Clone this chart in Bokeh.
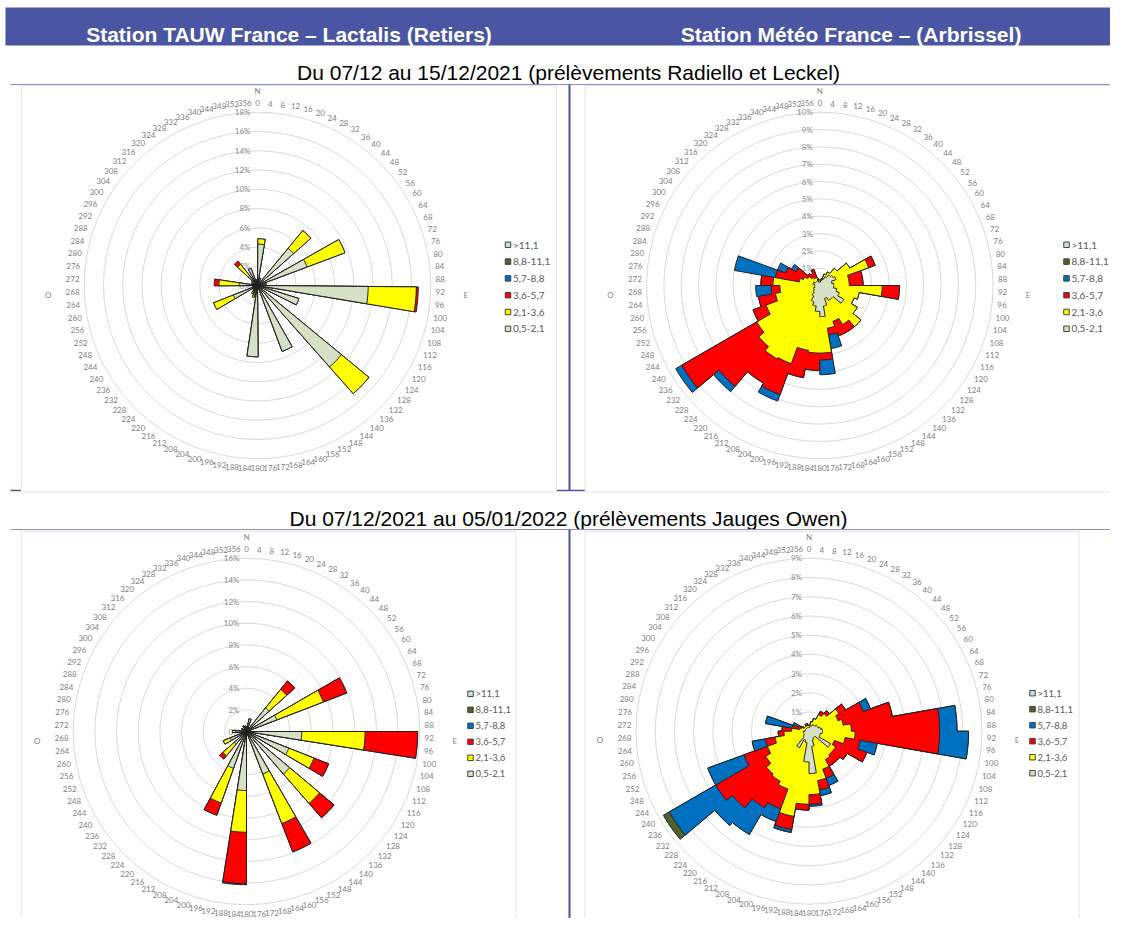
import numpy as np
from bokeh.plotting import figure
from bokeh.models import Range1d
from bokeh.embed import file_html
from bokeh.resources import INLINE
from bokeh.core.properties import value

# ---------------- texts ----------------
header_left = "Station TAUW France – Lactalis (Retiers)"
header_right = "Station Météo France – (Arbrissel)"
period_1 = "Du 07/12 au 15/12/2021 (prélèvements Radiello et Leckel)"
period_2 = "Du 07/12/2021 au 05/01/2022 (prélèvements Jauges Owen)"

# speed classes, from inner (first) to outer (last)
speed_classes = ["0,5-2,1", "2,1-3,6", "3,6-5,7", "5,7-8,8", "8,8-11,1", ">11,1"]
class_colors = ["#d6e0c4", "#ffff00", "#ff0000", "#0070c0", "#4f6228", "#c2e1e9"]

direction_labels = [str(d) for d in range(0, 360, 4)]

# ---------------- chart 1 : TAUW, 07/12 - 15/12/2021 (bars, % of time) -------------
c1_dir = [5, 20, 44, 65, 80, 95, 112, 134, 155, 184, 200, 215, 230, 244, 258, 274, 290, 305, 317, 335, 350]
c1_g   = [4.3, 0.8, 5.0, 5.5, 0.9, 11.5, 4.5, 11.3, 7.3, 7.4, 1.0, 0.8, 0.6, 2.7, 0.5, 1.9, 0.6, 0.7, 1.3, 1.9, 0.6]
c1_y   = [0.55, 0, 2.4, 4.2, 0, 5.0, 0, 3.7, 0, 0, 0.3, 0.2, 0, 2.2, 0, 2.1, 0, 0, 1.5, 0, 0]
c1_r   = [0, 0, 0, 0, 0, 0.2, 0, 0, 0, 0, 0, 0, 0, 0, 0, 0.5, 0, 0, 0.45, 0, 0]
c1_ticks = [0, 2, 4, 6, 8, 10, 12, 14, 16, 18]

# ---------------- chart 2 : Météo France, 07/12 - 15/12/2021 (10° sectors) ----------
c2_dir = [5, 15, 25, 35, 45, 55, 65, 75, 85, 95, 105, 115, 125, 135, 145, 155, 165, 175,
          185, 195, 205, 215, 225, 235, 245, 255, 265, 275, 285, 295, 305, 315, 325, 335, 345, 355]
c2_g = [0.2, 0.3, 0.4, 0.6, 0.8, 0.9, 1.0, 0.7, 0.8, 0.8, 1.0, 1.2, 1.6, 1.0, 1.0, 0.8, 1.2, 1.8,
        1.5, 1.2, 1.0, 0.7, 0.5, 0.4, 0.4, 0.3, 0.3, 0.3, 0.4, 0.4, 0.3, 0.3, 0.3, 0.3, 0.2, 0.2]
c2_y = [0.1, 0.1, 0.3, 0.3, 0.5, 1.1, 2.0, 1.0, 0.9, 2.8, 1.3, 0.9, 0.9, 2.1, 1.6, 1.4, 1.3, 2.1,
        2.4, 2.6, 3.8, 4.2, 4.1, 3.8, 2.9, 2.3, 2.0, 2.4, 0.8, 0.6, 0.5, 0.3, 0.2, 0.2, 0.1, 0.1]
c2_r = [0, 0, 0, 0, 0, 0, 0.4, 0.8, 0.8, 1.0, 0, 0, 0, 0, 0.5, 0.9, 0.4, 0.4,
        1.0, 1.6, 1.9, 1.6, 3.0, 5.0, 0.8, 1.0, 0.5, 0.7, 1.4, 1.1, 0.8, 0.3, 0.3, 0.5, 0.1, 0]
c2_b = [0, 0, 0, 0, 0, 0, 0, 0, 0, 0, 0, 0, 0, 0, 0, 0, 0.8, 0.85,
        0, 0, 0.4, 0, 0.4, 0.4, 0, 0, 0.9, 0, 2.4, 0.5, 0.3, 0, 0, 0, 0, 0]
c2_ticks = [0, 1, 2, 3, 4, 5, 6, 7, 8, 9, 10]

# ---------------- chart 3 : TAUW, 07/12/2021 - 05/01/2022 (bars) -------------------
c3_dir = [16, 43.5, 64.5, 94.5, 116, 134.5, 154.5, 184.5, 204, 224, 244, 270, 300, 330, 350]
c3_g   = [1.2, 2.8, 3.0, 5.1, 4.2, 5.2, 4.2, 5.45, 3.6, 1.5, 1.6, 1.0, 0.5, 0.6, 0.5]
c3_y   = [0, 2.2, 4.6, 5.85, 2.5, 3.6, 4.9, 3.85, 3.4, 1.4, 0.7, 0.3, 0, 0, 0]
c3_r   = [0, 1.0, 2.3, 4.85, 1.45, 1.75, 2.8, 4.75, 1.2, 0.4, 0, 0, 0, 0, 0]
c3_b   = [0, 0, 0, 0, 0, 0, 0, 0.1, 0, 0, 0, 0, 0, 0, 0]
c3_ticks = [0, 2, 4, 6, 8, 10, 12, 14, 16]

# ---------------- chart 4 : Météo France, 07/12/2021 - 05/01/2022 (10° sectors) -----
c4_dir = c2_dir
c4_g = [0.2, 0.3, 0.3, 0.4, 0.4, 0.5, 0.5, 0.6, 0.7, 0.7, 0.6, 0.6, 1.3, 0.4, 0.4, 0.5, 0.8, 2.2,
        1.6, 0.6, 0.5, 1.0, 0.4, 0.3, 0.3, 0.3, 0.3, 0.2, 0.2, 0.2, 0.2, 0.2, 0.2, 0.2, 0.2, 0.2]
c4_y = [0.1, 0.2, 0.4, 0.6, 0.8, 1.3, 1.1, 1.2, 1.5, 1.7, 1.3, 0.8, 0.3, 1.2, 1.3, 1.6, 1.8, 1.1,
        2.2, 3.9, 2.7, 2.0, 2.5, 2.3, 2.0, 1.5, 1.0, 0.7, 0.3, 0.2, 0.1, 0.1, 0.1, 0.1, 0.1, 0.1]
c4_r = [0, 0, 0, 0.2, 0.2, 0.4, 1.4, 2.6, 4.6, 4.4, 0.8, 1.8, 0.7, 0.5, 0.4, 0.5, 0.5, 0.5,
        0.3, 0.7, 1.1, 1.6, 2.3, 3.0, 1.3, 0.5, 0.3, 0.5, 0.4, 0.2, 0.1, 0, 0, 0.1, 0.1, 0]
c4_b = [0, 0, 0, 0, 0, 0, 0.4, 0, 0.9, 1.5, 0.9, 0, 0, 0, 0, 0.4, 0.3, 0.1,
        0, 0.15, 0.7, 1.6, 1.2, 2.8, 2.0, 0.7, 0, 0, 1.4, 0.3, 0, 0, 0, 0, 0, 0]
c4_gr = [0, 0, 0, 0, 0, 0, 0, 0, 0, 0, 0, 0, 0, 0, 0, 0, 0, 0,
         0, 0, 0, 0, 0, 0.35, 0, 0, 0, 0, 0, 0, 0, 0, 0, 0, 0, 0]
c4_ticks = [0, 1, 2, 3, 4, 5, 6, 7, 8, 9]

# ---------------- page ----------------
BLUE = "#4a55a3"
W, H = 1110, 918
p = figure(width=W, height=H, x_range=Range1d(0, W), y_range=Range1d(-H, 0),
           output_backend="svg", toolbar_location=None, min_border=0,
           x_axis_location=None, y_axis_location=None)
p.grid.visible = False
p.outline_line_color = None
p.background_fill_color = "white"
p.border_fill_color = "white"

SANS = value("Liberation Sans")
LBL = value("Lato")

# header band
p.quad(left=[5], right=[1126], top=[-7], bottom=[-45], fill_color=BLUE, line_color=None)
p.text(x=[288.5, 850.5], y=[-34, -34], text=[header_left, header_right], text_font=SANS,
       text_font_size="21px", text_font_style="bold", text_color="white",
       text_align="center", text_baseline="alphabetic")
p.text(x=[568, 568], y=[-72, -518], text=[period_1, period_2], text_font=SANS,
       text_font_size="21px", text_color="black", text_align="center", text_baseline="alphabetic")

# table lines
p.segment(x0=[10, 10], y0=[-84, -529], x1=[1126, 1126], y1=[-84, -529], line_color="#8890c6", line_width=1)
p.segment(x0=[10], y0=[-490], x1=[1126], y1=[-490], line_color=BLUE, line_width=1.5)
p.segment(x0=[569, 569], y0=[-84, -529], x1=[569, 569], y1=[-490, -934], line_color=BLUE, line_width=2)

# picture boxes
p.quad(left=[20.7, 584.6, 20.7, 584.6], right=[556, 1118, 515.4, 1078.6],
       top=[-85, -85, -531, -531], bottom=[-491.5, -491.5, -940, -940],
       fill_color="white", line_color="#e4e4e4", line_width=1)


def sector_polygon(cx, cy, scale, dirs, width, radii, contiguous):
    xs, ys = [], []
    for d, r in zip(dirs, radii):
        if not contiguous:
            xs.append(cx)
            ys.append(-cy)
        angs = np.radians(np.linspace(d - width / 2.0, d + width / 2.0, 7))
        xs.extend((cx + r * scale * np.sin(angs)).tolist())
        ys.extend((-cy + r * scale * np.cos(angs)).tolist())
    if not contiguous:
        xs.append(cx)
        ys.append(-cy)
    return xs, ys


def draw_rose(cx, cy, R, ticks, dirs, width, series, contiguous, lx, ly0, ldy, lfs):
    rmax = ticks[-1]
    scale = R / rmax
    # rings
    rr = [t * scale for t in ticks[1:]]
    p.circle(x=[cx] * len(rr), y=[-cy] * len(rr), radius=rr, fill_color=None,
             line_color="#d9d9d9", line_width=1)
    # ring labels
    p.text(x=[cx - 7] * len(ticks), y=[-cy + t * scale for t in ticks],
           text=["%d%%" % t for t in ticks], text_font=LBL, text_font_size="8px",
           text_color="#8c8c8c", text_align="right", text_baseline="middle")
    # direction labels
    lxs, lys = [], []
    for s in direction_labels:
        a = np.radians(float(s))
        w = len(s) * 4.4
        off = R + 5 + abs(np.sin(a)) * w / 2 + abs(np.cos(a)) * 4
        lxs.append(cx + off * np.sin(a))
        lys.append(-cy + off * np.cos(a))
    p.text(x=lxs, y=lys, text=direction_labels, text_font=LBL, text_font_size="8px",
           text_color="#7f7f7f", text_align="center", text_baseline="middle")
    p.text(x=[cx, cx + R + 35, cx - R - 36], y=[-cy + R + 21, -cy - 9, -cy - 9],
           text=["N", "E", "O"], text_font=LBL, text_font_size="8px", text_color="#7f7f7f",
           text_align="center", text_baseline="middle")
    # stacked classes, outer drawn first
    cum = np.cumsum(np.array(series, dtype=float), axis=0)
    xs_all, ys_all, cols = [], [], []
    for k in range(len(series) - 1, -1, -1):
        if max(series[k]) <= 0:
            continue
        xs, ys = sector_polygon(cx, cy, scale, dirs, width, cum[k], contiguous)
        xs_all.append(xs)
        ys_all.append(ys)
        cols.append(class_colors[k])
    p.patches(xs=xs_all, ys=ys_all, fill_color=cols, line_color="#202020", line_width=1)
    # legend
    n = len(speed_classes)
    ys_leg = [-(ly0 + i * ldy) for i in range(n)]
    p.rect(x=[lx] * n, y=ys_leg, width=5.5, height=5.5, fill_color=class_colors[::-1],
           line_color="#404040", line_width=1)
    p.text(x=[lx + 5] * n, y=ys_leg, text=speed_classes[::-1], text_font=LBL,
           text_font_size=lfs, text_color="#595959", text_align="left", text_baseline="middle")


zeros1 = [0] * len(c1_dir)
zeros2 = [0] * len(c2_dir)
zeros3 = [0] * len(c3_dir)

draw_rose(257, 285, 173.3, c1_ticks, c1_dir, 9,
          [c1_g, c1_y, c1_r, zeros1, zeros1, zeros1], False, 507.5, 244.3, 16.8, "10px")
draw_rose(819.3, 285, 173.3, c2_ticks, c2_dir, 10,
          [c2_g, c2_y, c2_r, c2_b, zeros2, zeros2], True, 1066, 244.3, 16.8, "10px")
draw_rose(246, 731, 173.3, c3_ticks, c3_dir, 9,
          [c3_g, c3_y, c3_r, c3_b, zeros3, zeros3], False, 470, 693.3, 16, "9.5px")
draw_rose(808.5, 730.7, 173, c4_ticks, c4_dir, 10,
          [c4_g, c4_y, c4_r, c4_b, c4_gr, zeros2], True, 1032, 692.7, 16, "9.5px")

open("out.html", "w").write(file_html(p, INLINE))
